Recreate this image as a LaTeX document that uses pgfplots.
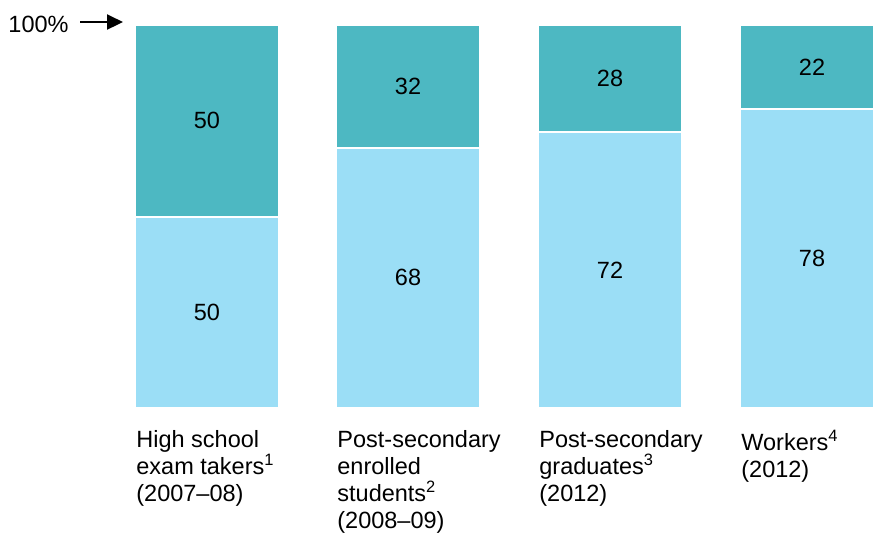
\documentclass[border=0pt]{standalone}
\usepackage{pgfplots}
\pgfplotsset{compat=1.18}
\usepackage{fontspec}
\setmainfont{Liberation Sans}
\usetikzlibrary{arrows.meta}
\definecolor{darkteal}{HTML}{4DB8C2}
\definecolor{lightblue}{HTML}{9BDEF6}
\pgfplotsset{frame/.style={scale only axis, width=436.5pt, height=268pt,
  xmin=0, xmax=873, ymin=-33.42, ymax=106.53, axis lines=none, clip mode=individual}}
\begin{document}
\begin{tikzpicture}[font=\fontsize{11.75}{13.5}\selectfont]
\begin{axis}[frame, ybar stacked, bar width=144]
\addplot[fill=lightblue, draw=white, line width=1pt] coordinates {(207,50) (408,68) (610,72) (812,78)};
\addplot[fill=darkteal, draw=white, line width=1pt] coordinates {(207,50) (408,32) (610,28) (812,22)};
\end{axis}
\begin{axis}[frame]
\addplot[draw=none, mark=none, nodes near coords, point meta=explicit symbolic,
  nodes near coords style={anchor=center, inner sep=0pt}] table[meta=l] {
x y l
207 25 50
207 75 50
408 34 68
408 84 32
610 36 72
610 86 28
812 39 78
812 89 22
};
\node[anchor=north west, align=left, inner sep=0pt] at (axis cs:136,-5.74) {High school\\exam takers\textsuperscript{1}\\(2007--08)};
\node[anchor=north west, align=left, inner sep=0pt] at (axis cs:337,-5.74) {Post-secondary\\enrolled\\students\textsuperscript{2}\\(2008--09)};
\node[anchor=north west, align=left, inner sep=0pt] at (axis cs:539,-5.74) {Post-secondary\\graduates\textsuperscript{3}\\(2012)};
\node[anchor=north west, align=left, inner sep=0pt] at (axis cs:741,-5.74) {Workers\textsuperscript{4}\\(2012)};
\node[anchor=base east, inner sep=0pt] at (axis cs:69,98.17) {100\%};
\draw[-{Triangle[length=8pt,width=7.5pt]}, line width=1.1pt] (axis cs:80,100.78) -- (axis cs:123,100.78);
\coordinate (bl) at (axis cs:0,-33.42);
\coordinate (tr) at (axis cs:873,106.53);
\end{axis}
\pgfresetboundingbox
\path[use as bounding box] (bl) rectangle (tr);
\end{tikzpicture}
\end{document}
